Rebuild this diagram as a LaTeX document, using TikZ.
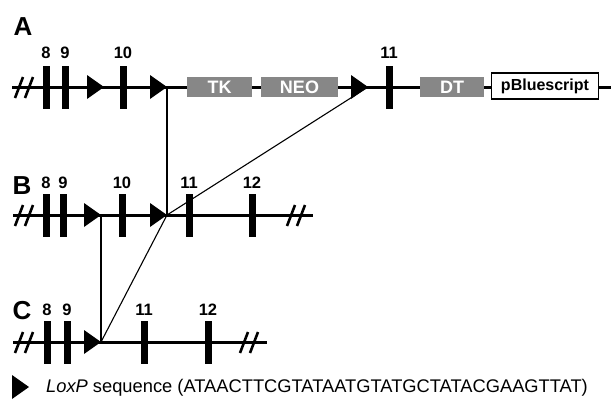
\documentclass[tikz,border=0pt]{standalone}
\usepackage{fontspec}
\setmainfont{Liberation Sans}
\begin{document}
\begin{tikzpicture}[x=1pt,y=-1pt,
  chrom/.style={line width=3pt},
  brk/.style={line width=2.6pt},
  link/.style={line width=1.1pt},
  exon/.style={fill=black,draw=none,minimum width=7pt,minimum height=43pt,inner sep=0pt},
  num/.style={font=\fontsize{16.5}{16.5}\selectfont\bfseries,inner sep=0pt},
  panel/.style={font=\fontsize{26}{26}\selectfont\bfseries,inner sep=0pt},
  cassette/.style={fill=black!47,draw=none,minimum height=20pt,inner sep=0pt,text=white,font=\fontsize{18}{18}\selectfont\bfseries},
  vector/.style={fill=white,draw=black,line width=1.6pt,minimum height=26pt,minimum width=107pt,inner sep=0pt,font=\fontsize{16}{16}\selectfont\bfseries}
]
\useasboundingbox (0,0) rectangle (611,400);
\newcommand\loxpsite[1]{\fill (#1) -- ++(-17,-12) -- ++(0,24) -- cycle;}
\newcommand\breakmark[2]{\draw[brk] (#1-5,#2+11) -- (#1+3,#2-10); \draw[brk] (#1+5,#2+11) -- (#1+13,#2-10);}

% ---------- A: targeting construct ----------
\node[panel] (pa) at (23,27) {A};
\draw[chrom] (12,87) -- (611,87);
\breakmark{20}{87}
\node[exon] (a8) at (46,87) {};
\node[exon] (a9) at (65,87) {};
\node[exon] (a10) at (123,87) {};
\node[exon] (a11) at (389,87) {};
\node[num] at (46,53) {8};
\node[num] at (65,53) {9};
\node[num] at (123,53) {10};
\node[num] at (389,53) {11};
\coordinate (ta1) at (104,87);
\coordinate (ta2) at (167,87);
\coordinate (ta3) at (368,87);
\loxpsite{ta1}\loxpsite{ta2}\loxpsite{ta3}
\node[cassette,minimum width=65pt] (tk) at (219.5,87) {TK};
\node[cassette,minimum width=77pt] (neo) at (299.5,87) {NEO};
\node[cassette,minimum width=64pt] (dt) at (452,87) {DT};
\node[vector] (pbs) at (545,86) {pBluescript};

% ---------- B: floxed allele ----------
\node[panel] (pb) at (22,186) {B};
\draw[chrom] (13,215) -- (313,215);
\breakmark{20}{215}
\breakmark{292}{215}
\node[exon] (b8) at (46,215) {};
\node[exon] (b9) at (63,215) {};
\node[exon] (b10) at (122,215) {};
\node[exon] (b11) at (189,215) {};
\node[exon] (b12) at (252,215) {};
\node[num] at (46,183) {8};
\node[num] at (63,183) {9};
\node[num] at (122,183) {10};
\node[num] at (189,183) {11};
\node[num] at (252,183) {12};
\coordinate (tb1) at (101,215);
\coordinate (tb2) at (167,215);
\loxpsite{tb1}\loxpsite{tb2}

% ---------- C: deleted allele ----------
\node[panel] (pc) at (22,311) {C};
\draw[chrom] (13,342) -- (267,342);
\breakmark{20}{342}
\breakmark{245}{342}
\node[exon] (c8) at (47,342) {};
\node[exon] (c9) at (67,342) {};
\node[exon] (c11) at (144,342) {};
\node[exon] (c12) at (208,342) {};
\node[num] at (47,310) {8};
\node[num] at (67,310) {9};
\node[num] at (144,310) {11};
\node[num] at (208,310) {12};
\coordinate (tc1) at (101,342);
\loxpsite{tc1}

% ---------- recombination links ----------
\draw[link] (ta2) -- (tb2);
\draw[link] (ta3) -- (tb2);
\draw[link] (tb1) -- (tc1);
\draw[link] (tb2) -- (tc1);

% ---------- legend ----------
\coordinate (tl) at (29,387);
\loxpsite{tl}
\node[anchor=west,inner sep=0pt,font=\fontsize{18.3}{18.3}\selectfont] (legend) at (46,388)
  {\textit{LoxP} sequence (ATAACTTCGTATAATGTATGCTATACGAAGTTAT)};
\end{tikzpicture}
\end{document}
